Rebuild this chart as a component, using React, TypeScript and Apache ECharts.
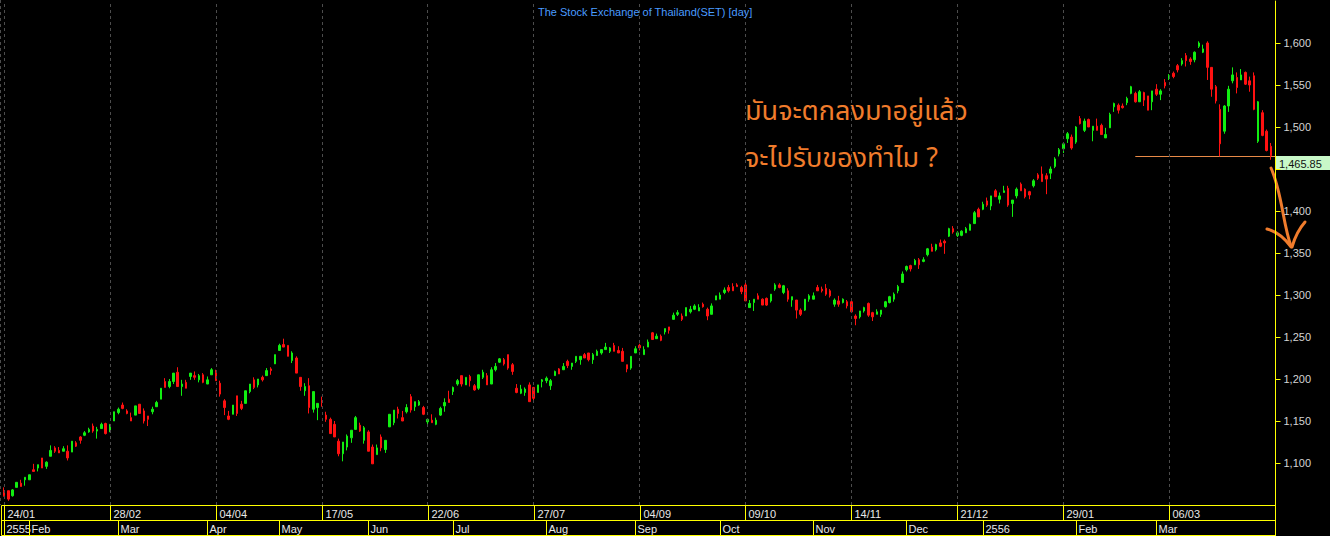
import React, { useEffect, useRef } from 'react';
import * as echarts from 'echarts';

// ---- DATA (SET index, daily) ----
const opens = [
  1066,1067,1061,1071,1076,1080,1080,1092,1094,1106,
  1096,1108,1118,1115,1114,1114,1113,1124,1131,1133,
  1137,1144,1138,1141,1147,1137,1150,1160,1169,1162,
  1154,1157,1170,1162,1156,1161,1167,1176,1197,1191,
  1197,1208,1191,1196,1203,1204,1199,1205,1194,1205,
  1208,1195,1174,1156,1158,1180,1170,1171,1185,1199,
  1193,1202,1204,1212,1218,1234,1241,1240,1222,1225,
  1202,1186,1192,1164,1166,1174,1157,1152,1146,1126,
  1111,1119,1130,1140,1145,1127,1137,1119,1110,1131,
  1116,1143,1148,1164,1154,1161,1179,1167,1169,1166,
  1149,1151,1146,1157,1168,1176,1185,1194,1204,1193,
  1203,1192,1189,1202,1204,1194,1211,1220,1223,1229,
  1217,1189,1183,1184,1193,1190,1184,1197,1198,1192,
  1204,1212,1211,1221,1215,1221,1223,1229,1231,1223,
  1228,1231,1235,1233,1240,1234,1233,1217,1213,1231,
  1240,1229,1238,1255,1248,1251,1256,1262,1271,1277,
  1275,1275,1280,1283,1281,1289,1283,1277,1294,1295,
  1303,1309,1310,1312,1309,1312,1285,1291,1299,1295,
  1296,1293,1307,1312,1303,1305,1294,1294,1282,1282,
  1295,1295,1309,1307,1308,1305,1289,1293,1291,1292,
  1292,1275,1274,1281,1290,1279,1277,1277,1286,1291,
  1295,1305,1315,1330,1335,1336,1342,1340,1348,1357,
  1354,1362,1364,1370,1379,1371,1371,1374,1377,1385,
  1402,1402,1412,1406,1424,1414,1422,1427,1409,1418,
  1432,1426,1423,1430,1443,1444,1442,1445,1453,1468,
  1474,1486,1488,1482,1510,1496,1509,1496,1501,1502,
  1487,1499,1524,1526,1525,1529,1540,1540,1530,1541,
  1537,1530,1545,1539,1553,1558,1564,1573,1575,1585,
  1581,1580,1596,1589,1600,1571,1548,1521,1495,1525,
  1555,1559,1556,1565,1555,1561,1483,1517,1495,1477,
];
const closes = [
  1061,1057,1068,1077,1072,1083,1086,1090,1098,1094,
  1101,1115,1114,1112,1117,1106,1126,1120,1127,1136,
  1140,1138,1140,1146,1135,1146,1161,1164,1165,1159,
  1150,1168,1159,1150,1152,1164,1172,1189,1190,1197,
  1207,1191,1194,1189,1207,1202,1204,1196,1199,1211,
  1198,1182,1166,1152,1169,1159,1165,1186,1194,1190,
  1200,1199,1210,1210,1229,1240,1238,1227,1231,1207,
  1191,1191,1166,1185,1171,1172,1152,1135,1131,1111,
  1125,1132,1139,1154,1138,1142,1114,1099,1118,1118,
  1127,1158,1163,1159,1150,1166,1163,1173,1173,1158,
  1152,1148,1151,1165,1172,1172,1190,1198,1194,1202,
  1198,1187,1205,1208,1193,1211,1215,1224,1218,1213,
  1209,1184,1188,1188,1173,1177,1193,1199,1201,1198,
  1209,1206,1215,1216,1219,1227,1227,1225,1223,1229,
  1233,1235,1238,1237,1233,1231,1221,1212,1227,1236,
  1237,1235,1244,1247,1251,1246,1260,1258,1276,1279,
  1271,1285,1283,1287,1285,1286,1275,1287,1299,1300,
  1306,1305,1305,1310,1304,1293,1290,1295,1295,1288,
  1288,1301,1312,1309,1311,1295,1298,1282,1277,1295,
  1299,1299,1305,1305,1301,1299,1294,1289,1295,1287,
  1280,1272,1281,1285,1276,1274,1280,1282,1292,1298,
  1301,1310,1325,1334,1331,1341,1336,1342,1355,1352,
  1360,1358,1362,1379,1375,1374,1376,1379,1384,1398,
  1393,1408,1407,1418,1417,1418,1424,1407,1413,1426,
  1424,1417,1419,1436,1439,1435,1438,1450,1462,1473,
  1480,1492,1475,1500,1504,1507,1500,1501,1496,1491,
  1491,1515,1528,1520,1523,1534,1548,1530,1542,1532,
  1520,1543,1539,1543,1549,1561,1560,1568,1579,1579,
  1578,1589,1600,1593,1571,1545,1531,1480,1525,1545,
  1562,1547,1562,1551,1550,1521,1530,1490,1472,1465.85,
];
const lows = [
  1060,1055,1060,1071,1072,1073,1080,1090,1090,1094,
  1093,1108,1112,1112,1114,1103,1113,1119,1123,1132,
  1136,1136,1129,1141,1134,1137,1150,1158,1164,1158,
  1150,1157,1159,1147,1144,1158,1167,1176,1190,1189,
  1194,1191,1180,1189,1199,1199,1196,1195,1194,1205,
  1198,1179,1157,1151,1158,1156,1163,1171,1183,1188,
  1190,1197,1204,1205,1218,1234,1238,1227,1219,1207,
  1186,1180,1159,1160,1151,1167,1149,1135,1131,1108,
  1102,1115,1124,1140,1137,1123,1114,1099,1110,1114,
  1112,1143,1145,1153,1150,1159,1160,1162,1168,1157,
  1144,1148,1145,1156,1161,1172,1181,1192,1191,1193,
  1191,1186,1187,1200,1193,1194,1209,1219,1216,1211,
  1205,1183,1182,1180,1173,1173,1184,1190,1195,1187,
  1204,1206,1211,1213,1211,1219,1217,1225,1221,1218,
  1228,1229,1235,1231,1233,1231,1221,1208,1211,1231,
  1234,1229,1238,1247,1248,1245,1253,1254,1271,1275,
  1269,1275,1278,1282,1281,1285,1270,1277,1294,1295,
  1301,1303,1305,1310,1301,1293,1285,1281,1295,1288,
  1287,1291,1305,1308,1301,1292,1286,1272,1275,1281,
  1292,1295,1305,1303,1299,1297,1286,1286,1290,1284,
  1280,1264,1272,1279,1274,1269,1277,1274,1285,1290,
  1292,1302,1315,1328,1328,1336,1331,1339,1346,1352,
  1352,1357,1349,1369,1373,1369,1370,1374,1377,1385,
  1393,1401,1405,1401,1417,1409,1422,1405,1393,1415,
  1424,1415,1414,1428,1437,1435,1420,1438,1451,1465,
  1469,1481,1473,1480,1503,1494,1500,1483,1496,1491,
  1487,1499,1518,1516,1522,1526,1539,1529,1530,1525,
  1520,1520,1537,1532,1546,1556,1558,1565,1573,1572,
  1574,1577,1594,1588,1556,1536,1528,1465,1492,1518,
  1552,1540,1556,1550,1542,1520,1481,1489,1471,1461,
];
const highs = [
  1071,1067,1069,1077,1080,1083,1086,1099,1098,1106,
  1102,1121,1120,1119,1120,1121,1126,1126,1132,1138,
  1142,1147,1143,1148,1148,1146,1161,1166,1172,1164,
  1160,1168,1170,1165,1156,1167,1174,1189,1201,1200,
  1207,1214,1199,1199,1207,1209,1206,1207,1203,1213,
  1211,1198,1176,1162,1169,1180,1174,1186,1194,1202,
  1200,1204,1213,1214,1229,1242,1248,1240,1233,1227,
  1202,1195,1201,1185,1171,1179,1161,1154,1150,1129,
  1125,1134,1139,1156,1148,1144,1139,1122,1122,1134,
  1127,1158,1163,1167,1162,1170,1182,1173,1175,1168,
  1152,1158,1154,1167,1177,1186,1191,1200,1204,1202,
  1205,1194,1205,1211,1207,1214,1219,1225,1225,1229,
  1219,1194,1193,1190,1196,1190,1193,1200,1203,1200,
  1210,1213,1219,1223,1219,1227,1227,1231,1231,1231,
  1235,1235,1243,1238,1243,1239,1237,1217,1227,1239,
  1242,1239,1247,1256,1254,1253,1260,1262,1279,1282,
  1278,1285,1287,1289,1289,1291,1285,1290,1299,1303,
  1309,1312,1314,1314,1311,1315,1294,1295,1302,1296,
  1297,1301,1314,1314,1312,1308,1298,1294,1284,1295,
  1301,1303,1312,1310,1313,1307,1296,1299,1296,1294,
  1294,1277,1281,1286,1291,1280,1283,1282,1293,1299,
  1303,1312,1328,1335,1336,1343,1344,1345,1356,1361,
  1361,1366,1366,1380,1382,1376,1377,1381,1385,1400,
  1404,1411,1416,1418,1426,1422,1430,1430,1413,1428,
  1434,1427,1424,1438,1445,1453,1445,1453,1464,1475,
  1482,1494,1491,1501,1513,1510,1510,1501,1510,1504,
  1499,1517,1529,1528,1528,1536,1549,1542,1544,1542,
  1537,1543,1551,1545,1557,1563,1566,1575,1582,1588,
  1583,1590,1602,1598,1602,1571,1550,1527,1526,1549,
  1571,1565,1569,1566,1560,1565,1531,1520,1497,1481,
];

// date ticks (trading-day index -> label)
const dateTickIdx = [0, 25, 50, 75, 100, 125, 150, 175, 200, 225, 250, 275];
const dateTickText = ['24/01', '28/02', '04/04', '17/05', '22/06', '27/07', '04/09', '09/10', '14/11', '21/12', '29/01', '06/03'];
// month row
const monthIdx = [0, 6, 27, 48, 65, 86, 106, 128, 149, 169, 191, 213, 231, 253, 272];
const monthText = ['2555', 'Feb', 'Mar', 'Apr', 'May', 'Jun', 'Jul', 'Aug', 'Sep', 'Oct', 'Nov', 'Dec', '2556', 'Feb', 'Mar'];

const lastPrice = 1465.85;
const lineStartIdx = 267;
const yTicks = { min: 1050, max: 1650, step: 50 };
const hiddenYLabel = 1450; // covered by the last-price tag

const titleText = 'The Stock Exchange of Thailand(SET) [day]';
const noteLine1 = 'มันจะตกลงมาอยู่แล้ว';
const noteLine2 = 'จะไปรับของทำไม ?';

const categories = opens.map((_, i) => String(i));
const candleData = opens.map((o, i) => [o, closes[i], lows[i], highs[i]]);

const UP = '#11ee11';
const DOWN = '#ff1111';
const YEL = '#ffff00';
const AX_FONT = 'Liberation Sans, Arial, sans-serif';
const ORANGE = '#f07c2c';

export default function App() {
  const ref = useRef<HTMLDivElement>(null);
  useEffect(() => {
    document.body.style.margin = '0';
    document.body.style.background = '#000';
    const chart = echarts.init(ref.current!, null, { renderer: 'svg' });
    chart.setOption({
      animation: false,
      backgroundColor: '#000',
      title: {
        text: titleText,
        left: 533,
        top: 1,
        textStyle: { color: '#4a9cff', fontSize: 11, fontWeight: 'normal', fontFamily: AX_FONT },
      },
      grid: { left: 1.9, top: 1, width: 1271.1, height: 504 },
      xAxis: {
        type: 'category',
        data: categories,
        boundaryGap: true,
        axisLine: { show: false },
        axisTick: { show: false },
        axisLabel: { show: false },
        splitLine: { show: false },
      },
      yAxis: {
        type: 'value',
        position: 'right',
        offset: 2.5,
        min: yTicks.min,
        max: yTicks.max,
        interval: yTicks.step,
        axisLine: { show: true, lineStyle: { color: YEL, width: 1 } },
        axisTick: { show: true, length: 5, lineStyle: { color: YEL } },
        axisLabel: {
          color: '#d4d4d4',
          fontSize: 11,
          fontFamily: AX_FONT,
          margin: 8,
          showMinLabel: false,
          showMaxLabel: false,
          formatter: (v: number) => (v === hiddenYLabel ? '' : v.toLocaleString('en-US')),
        },
        splitLine: { show: false },
      },
      series: [
        {
          type: 'candlestick',
          data: candleData,
          barWidth: 2,
          itemStyle: { color: UP, color0: DOWN, borderColor: UP, borderColor0: DOWN, borderWidth: 1 },
          markLine: {
            silent: true,
            symbol: ['none', 'none'],
            label: { show: false },
            lineStyle: { color: '#4c4c4c', type: [3, 3], width: 1 },
            data: dateTickIdx.map((i) => ({ xAxis: categories[i] })),
          },
        },
      ],
    });

    const px = (i: number) => chart.convertToPixel({ xAxisIndex: 0 }, i) as number;
    const py = (v: number) => chart.convertToPixel({ yAxisIndex: 0 }, v) as number;

    const rowTop = 505.5, rowMid = 520.5, rowBot = 535.5, xL = 1.5, xR = 1275.5;
    const g: any[] = [];
    const hl = (x1: number, y1: number, x2: number, y2: number, stroke = YEL, w = 1, dash?: number[]) =>
      g.push({ type: 'line', silent: true, shape: { x1, y1, x2, y2 }, style: { stroke, lineWidth: w, lineDash: dash } });

    // left frame dashed line in plot area
    hl(0.5, 0, 0.5, rowTop - 0.5, '#4c4c4c', 1, [3, 3]);

    hl(xL, rowTop, xR, rowTop);
    hl(xL, rowMid, xR, rowMid);
    hl(xL, rowBot, xR, rowBot);
    hl(xL, rowTop, xL, rowBot);
    hl(xR, rowTop - 1, xR, 536);
    dateTickIdx.forEach((idx, k) => {
      const x = Math.round(px(idx)) + 0.5;
      hl(x, rowTop, x, rowMid);
      g.push({
        type: 'text', silent: true,
        style: { text: dateTickText[k], x: x + 3, y: 513.5, fill: '#e8e8e8', font: `11px ${AX_FONT}`, textAlign: 'left', textVerticalAlign: 'middle' },
      });
    });
    monthIdx.forEach((idx, k) => {
      const x = Math.round(px(idx)) + 0.5;
      hl(x, rowMid, x, rowBot);
      g.push({
        type: 'text', silent: true,
        style: { text: monthText[k], x: x + 2, y: 528.5, fill: '#e8e8e8', font: `11px ${AX_FONT}`, textAlign: 'left', textVerticalAlign: 'middle' },
      });
    });

    // last price line + tag
    const yl = Math.round(py(lastPrice)) + 0.5;
    hl(px(lineStartIdx), yl, xR, yl, '#e88a48', 1);
    g.push({ type: 'rect', silent: true, shape: { x: 1276, y: yl - 0.5, width: 54, height: 14 }, style: { fill: '#c8f8c8' } });
    g.push({
      type: 'text', silent: true,
      style: { text: lastPrice.toLocaleString('en-US', { minimumFractionDigits: 2 }), x: 1279, y: yl + 7, fill: '#111', font: `11px ${AX_FONT}`, textAlign: 'left', textVerticalAlign: 'middle' },
    });

    // hand-drawn arrow
    const arrowStyle = { stroke: ORANGE, lineWidth: 3, lineCap: 'round', fill: 'none' };
    g.push({ type: 'bezierCurve', silent: true, shape: { x1: 1271, y1: 168, cpx1: 1282, cpy1: 192, cpx2: 1283, cpy2: 225, x2: 1291, y2: 246 }, style: arrowStyle });
    g.push({ type: 'bezierCurve', silent: true, shape: { x1: 1267, y1: 229, cpx1: 1278, cpy1: 232, cpx2: 1286, cpy2: 240, x2: 1291, y2: 247 }, style: arrowStyle });
    g.push({ type: 'bezierCurve', silent: true, shape: { x1: 1305, y1: 222, cpx1: 1298, cpy1: 230, cpx2: 1294, cpy2: 240, x2: 1292, y2: 247 }, style: arrowStyle });

    // annotation text
    const thaiFont = '"Noto Sans Thai", "Noto Sans", "DejaVu Sans", sans-serif';
    g.push({ type: 'text', silent: true, style: { text: noteLine1, x: 745, y: 111, fill: ORANGE, font: `27px ${thaiFont}`, textAlign: 'left', textVerticalAlign: 'middle' } });
    g.push({ type: 'text', silent: true, style: { text: noteLine2, x: 745, y: 158, fill: ORANGE, font: `27px ${thaiFont}`, textAlign: 'left', textVerticalAlign: 'middle' } });

    chart.setOption({ graphic: g });
    return () => chart.dispose();
  }, []);
  return <div ref={ref} style={{ width: 1330, height: 536, background: '#000' }} />;
}
